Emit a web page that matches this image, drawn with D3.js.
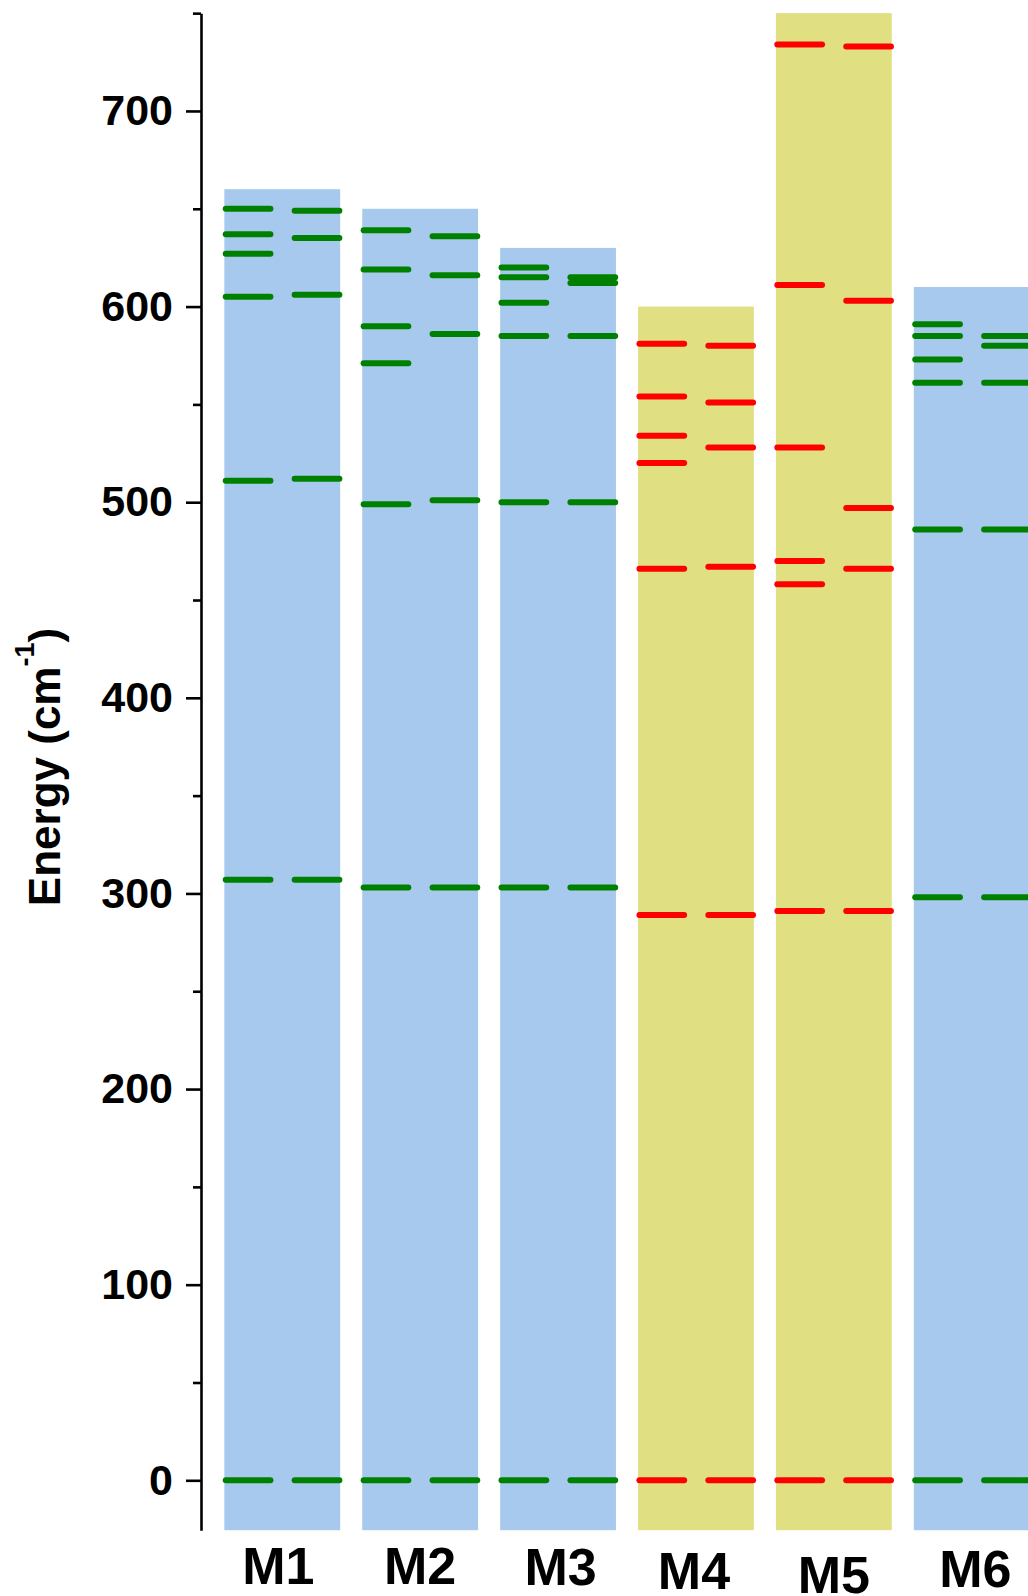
<!DOCTYPE html>
<html>
<head>
<meta charset="utf-8">
<script src="https://cdn.jsdelivr.net/npm/d3@7"></script>
<style>
  html, body { margin: 0; padding: 0; background: #fff; }
  svg { display: block; }
  text { font-family: "Liberation Sans", Arial, sans-serif; font-weight: bold; fill: #000; }
</style>
</head>
<body>
<svg id="chart" width="1028" height="1596"></svg>
<script>
// ---------------- data ----------------
const categories = ["M1", "M2", "M3", "M4", "M5", "M6"];
const groups     = ["A", "A", "A", "B", "B", "A"];        // A = blue/green, B = yellow/red
const barTops    = [660, 650, 630, 600, 750, 610];

const levelsLeft = [
  [0, 307, 511, 605, 627, 637, 650],
  [0, 303, 499, 571, 590, 619, 639],
  [0, 303, 500, 585, 602, 615, 620],
  [0, 289, 466, 520, 534, 554, 581],
  [0, 291, 458, 470, 528, 611, 734],
  [0, 298, 486, 561, 573, 585, 591]
];
const levelsRight = [
  [0, 307, 512, 606, 635, 649],
  [0, 303, 501, 586, 616, 636],
  [0, 303, 500, 585, 612, 615],
  [0, 289, 467, 528, 551, 580],
  [0, 291, 466, 497, 603, 733],
  [0, 298, 486, 561, 580, 585]
];
const majorTicks = [0, 100, 200, 300, 400, 500, 600, 700];
const minorTicks = [50, 150, 250, 350, 450, 550, 650, 750];
const yTitle = "Energy (cm";
const ySup = "-1";

// ---------------- layout / style ----------------
const yMin = -25.5, yMax = 750;
const axisX = 201;
const barColor  = { A: "#a8c9ee", B: "#e0e082" };
const lineColor = { A: "#008000", B: "#ff0000" };
const labelNudge = [[-4, 0], [0, 0], [2.5, 0.5], [-2, 4.5], [0, 8.5], [3.5, 2.5]];

const svg = d3.select("#chart");

const y = d3.scaleLinear()
  .domain([yMin, yMax])
  .range([1480.3 + 25.5 * 1.9562, 1480.3 - 750 * 1.9562]);

const x = d3.scaleBand()
  .domain(categories)
  .range([213.3, 213.3 + 6 * 137.9])
  .paddingInner(0.16)
  .paddingOuter(0.08);

const bw = x.bandwidth();

// bars
svg.append("g").selectAll("rect")
  .data(categories)
  .join("rect")
  .attr("x", d => x(d))
  .attr("width", bw)
  .attr("y", (d, i) => y(barTops[i]))
  .attr("height", (d, i) => y(yMin) - y(barTops[i]))
  .attr("fill", (d, i) => barColor[groups[i]]);

// energy levels
const segs = [];
categories.forEach((c, i) => {
  levelsLeft[i].forEach(v => segs.push({ c, i, v, a: 0.012, b: 0.398 }));
  levelsRight[i].forEach(v => segs.push({ c, i, v, a: 0.607, b: 0.993 }));
});

svg.append("g").selectAll("line")
  .data(segs)
  .join("line")
  .attr("x1", d => x(d.c) + d.a * bw)
  .attr("x2", d => x(d.c) + d.b * bw)
  .attr("y1", d => y(d.v))
  .attr("y2", d => y(d.v))
  .attr("stroke", d => lineColor[groups[d.i]])
  .attr("stroke-width", 6)
  .attr("stroke-linecap", "round");

// y axis (major)
const gMajor = svg.append("g")
  .attr("transform", `translate(${axisX},0)`)
  .call(d3.axisLeft(y).tickValues(majorTicks).tickSize(15).tickSizeOuter(0).tickPadding(13));
gMajor.select(".domain").attr("stroke", "#000").attr("stroke-width", 2.6);
gMajor.selectAll(".tick line").attr("stroke", "#000").attr("stroke-width", 2.6);
gMajor.selectAll(".tick text")
  .attr("font-size", 43)
  .attr("font-family", "'Liberation Sans', Arial, sans-serif")
  .attr("font-weight", "bold")
  .attr("fill", "#000");

// y axis (minor)
const gMinor = svg.append("g")
  .attr("transform", `translate(${axisX},0)`)
  .call(d3.axisLeft(y).tickValues(minorTicks).tickSize(8).tickSizeOuter(0).tickFormat(""));
gMinor.select(".domain").remove();
gMinor.selectAll(".tick line").attr("stroke", "#000").attr("stroke-width", 2.6);

// y title
const title = svg.append("text")
  .attr("transform", "translate(60,767) rotate(-90)")
  .attr("text-anchor", "middle")
  .attr("font-size", 44);
title.append("tspan").text(yTitle);
title.append("tspan").attr("font-size", 27).attr("dy", -26).text(ySup);
title.append("tspan").attr("dy", 26).text(")");

// x labels
svg.append("g").selectAll("text")
  .data(categories)
  .join("text")
  .attr("x", (d, i) => x(d) + bw / 2 + labelNudge[i][0])
  .attr("y", (d, i) => 1584 + labelNudge[i][1])
  .attr("text-anchor", "middle")
  .attr("font-size", 52)
  .text(d => d);
</script>
</body>
</html>
